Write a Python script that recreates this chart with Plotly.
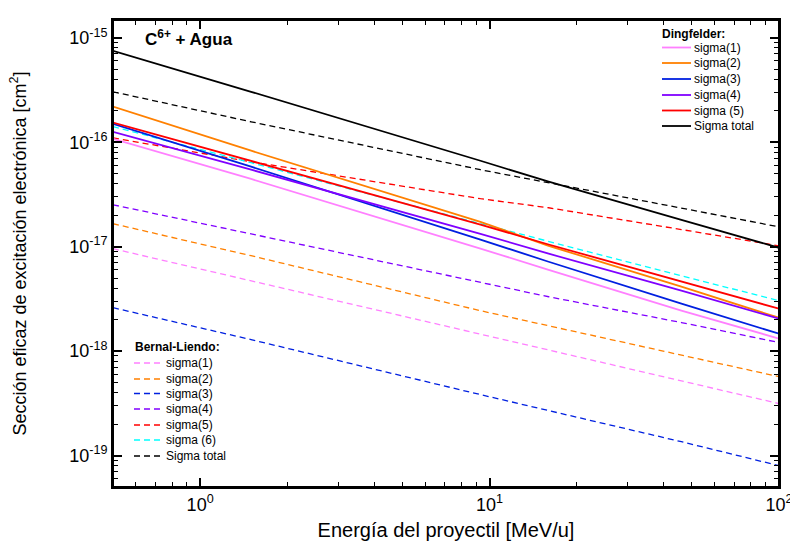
import plotly.graph_objects as go

# Energies (MeV/u) at which the curves were read
energy = [0.5, 1.5, 9.3, 16, 46, 100]

# Dingfelder (solid)
d_sigma1 = [1.08e-16, 4.45e-17, 9.6e-18, 6.0e-18, 2.45e-18, 1.32e-18]
d_sigma2 = [2.19e-16, 8.30e-17, 1.73e-17, 1.02e-17, 4.14e-18, 2.09e-18]
d_sigma3 = [1.50e-16, 5.83e-17, 1.17e-17, 7.18e-18, 2.85e-18, 1.47e-18]
d_sigma4 = [1.26e-16, 5.46e-17, 1.33e-17, 8.57e-18, 3.79e-18, 2.05e-18]
d_sigma5 = [1.54e-16, 6.65e-17, 1.63e-17, 1.05e-17, 4.62e-18, 2.55e-18]
d_total = [7.51e-16, 3.04e-16, 6.65e-17, 4.19e-17, 1.81e-17, 9.77e-18]

# Bernal-Liendo (dashed)
b_sigma1 = [9.57e-18, 4.73e-18, 1.47e-18, 1.03e-18, 5.22e-19, 3.15e-19]
b_sigma2 = [1.66e-17, 8.20e-18, 2.44e-18, 1.75e-18, 9.27e-19, 5.70e-19]
b_sigma3 = [2.61e-18, 1.29e-18, 3.84e-19, 2.70e-19, 1.36e-19, 8.02e-20]
b_sigma4 = [2.52e-17, 1.33e-17, 4.53e-18, 3.32e-18, 1.88e-18, 1.21e-18]
b_sigma5 = [1.10e-16, 6.50e-17, 2.88e-17, 2.36e-17, 1.46e-17, 1.02e-17]
b_sigma6 = [1.41e-16, 6.37e-17, 1.66e-17, 1.12e-17, 5.27e-18, 3.04e-18]
b_total = [3.04e-16, 1.57e-16, 5.46e-17, 4.09e-17, 2.36e-17, 1.55e-17]

# Axis ticks
x_major = [1, 10, 100]
x_major_text = ["10<sup>0</sup>", "10<sup>1</sup>", "10<sup>2</sup>"]
x_minor = [0.6, 0.7, 0.8, 0.9, 2, 3, 4, 5, 6, 7, 8, 9, 20, 30, 40, 50, 60, 70, 80, 90]
y_major = [1e-19, 1e-18, 1e-17, 1e-16, 1e-15]
y_major_text = ["10<sup>-19</sup>", "10<sup>-18</sup>", "10<sup>-17</sup>", "10<sup>-16</sup>", "10<sup>-15</sup>"]
y_minor = [m * 10.0 ** e for e in range(-20, -15) for m in range(2, 10)]

# Legend labels
ding_labels = ["sigma(1)", "sigma(2)", "sigma(3)", "sigma(4)", "sigma (5)", "Sigma total"]
bern_labels = ["sigma(1)", "sigma(2)", "sigma(3)", "sigma(4)", "sigma(5)", "sigma (6)", "Sigma total"]

PINK = "#ff80ff"
ORANGE = "#ff8000"
BLUE = "#0020e0"
PURPLE = "#8000ff"
RED = "#ff0000"
CYAN = "#00ffff"
BLACK = "#000000"

ding_series = [d_sigma1, d_sigma2, d_sigma3, d_sigma4, d_sigma5, d_total]
ding_colors = [PINK, ORANGE, BLUE, PURPLE, RED, BLACK]
bern_series = [b_sigma1, b_sigma2, b_sigma3, b_sigma4, b_sigma5, b_sigma6, b_total]
bern_colors = [PINK, ORANGE, BLUE, PURPLE, RED, CYAN, BLACK]

DASH = "6px,4px"
FONT = "Arial, Liberation Sans, sans-serif"

fig = go.Figure()
for name, vals, col in zip(bern_labels, bern_series, bern_colors):
    fig.add_trace(go.Scatter(x=energy, y=vals, mode="lines", name=name, showlegend=False,
                             line=dict(color=col, width=1.3, dash=DASH)))
for name, vals, col in zip(ding_labels, ding_series, ding_colors):
    fig.add_trace(go.Scatter(x=energy, y=vals, mode="lines", name=name, showlegend=False,
                             line=dict(color=col, width=1.8)))
# empty trace to host the minor-tick overlay axes
fig.add_trace(go.Scatter(x=[None], y=[None], xaxis="x2", yaxis="y2", showlegend=False,
                         hoverinfo="skip", mode="lines"))

W, H = 790, 544
L, R, T, B = 113, 11, 20, 57
PW, PH = W - L - R, H - T - B


def px(xpix):
    return (xpix - L) / PW


def py(ypix):
    return 1 - (ypix - T) / PH


XR = [-0.30103, 2.0]
YR = [-19.3, -14.83]
common = dict(type="log", showgrid=False, zeroline=False, showline=True, linewidth=2,
              linecolor="black", mirror="ticks", ticks="inside", tickcolor="black",
              ticklabeloverflow="allow", automargin=False)

fig.update_layout(
    template="none",
    width=W, height=H,
    margin=dict(l=L, r=R, t=T, b=B),
    paper_bgcolor="white", plot_bgcolor="white",
    font=dict(family=FONT, color="black"),
    showlegend=False,
    xaxis=dict(**common, range=XR, tickmode="array", tickvals=x_major, ticktext=x_major_text,
               ticklen=9, tickwidth=1.5, tickfont=dict(size=18),
               title=dict(text="Energía del proyectil [MeV/u]", font=dict(size=20), standoff=9)),
    yaxis=dict(**common, range=YR, tickmode="array", tickvals=y_major, ticktext=y_major_text,
               ticklen=9, tickwidth=1.5, tickfont=dict(size=18),
               title=dict(text="Sección eficaz de excitación electrónica [cm<sup>2</sup>]",
                          font=dict(size=18), standoff=38)),
    xaxis2=dict(**common, range=XR, overlaying="x", anchor="y2", tickmode="array",
                tickvals=x_minor, ticklen=5, tickwidth=1.2, showticklabels=False, side="bottom"),
    yaxis2=dict(**common, range=YR, overlaying="y", anchor="x2", tickmode="array",
                tickvals=y_minor, ticklen=5, tickwidth=1.2, showticklabels=False, side="left"),
)

# plot frame
fig.add_shape(type="rect", xref="paper", yref="paper", x0=0, x1=1, y0=0, y1=1,
              line=dict(color="black", width=2), layer="above")

fig.add_annotation(x=px(143), y=py(38), xref="paper", yref="paper", xanchor="left", yanchor="middle",
                   text="<b>C<sup>6+</sup> + Agua</b>", showarrow=False, font=dict(size=17))

# Legend: Dingfelder (solid)
fig.add_annotation(x=px(660), y=py(34), xref="paper", yref="paper", xanchor="left", yanchor="middle",
                   text="<b>Dingfelder:</b>", showarrow=False, font=dict(size=12))
ding_rows = [47.5, 63, 79, 95, 110.5, 126]
for lab, col, yy in zip(ding_labels, ding_colors, ding_rows):
    fig.add_shape(type="line", xref="paper", yref="paper", x0=px(662), x1=px(691), y0=py(yy), y1=py(yy),
                  line=dict(color=col, width=1.8))
    fig.add_annotation(x=px(692), y=py(yy), xref="paper", yref="paper", xanchor="left", yanchor="middle",
                       text=lab, showarrow=False, font=dict(size=12))

# Legend: Bernal-Liendo (dashed)
fig.add_annotation(x=px(133), y=py(347), xref="paper", yref="paper", xanchor="left", yanchor="middle",
                   text="<b>Bernal-Liendo:</b>", showarrow=False, font=dict(size=12))
bern_rows = [363, 379, 393.5, 409, 425, 440, 456]
for lab, col, yy in zip(bern_labels, bern_colors, bern_rows):
    fig.add_shape(type="line", xref="paper", yref="paper", x0=px(134), x1=px(162), y0=py(yy), y1=py(yy),
                  line=dict(color=col, width=1.3, dash=DASH))
    fig.add_annotation(x=px(164), y=py(yy), xref="paper", yref="paper", xanchor="left", yanchor="middle",
                       text=lab, showarrow=False, font=dict(size=12))

fig.write_html("out.html", config={"displayModeBar": False},
               post_script="document.body.style.margin='0px';")
